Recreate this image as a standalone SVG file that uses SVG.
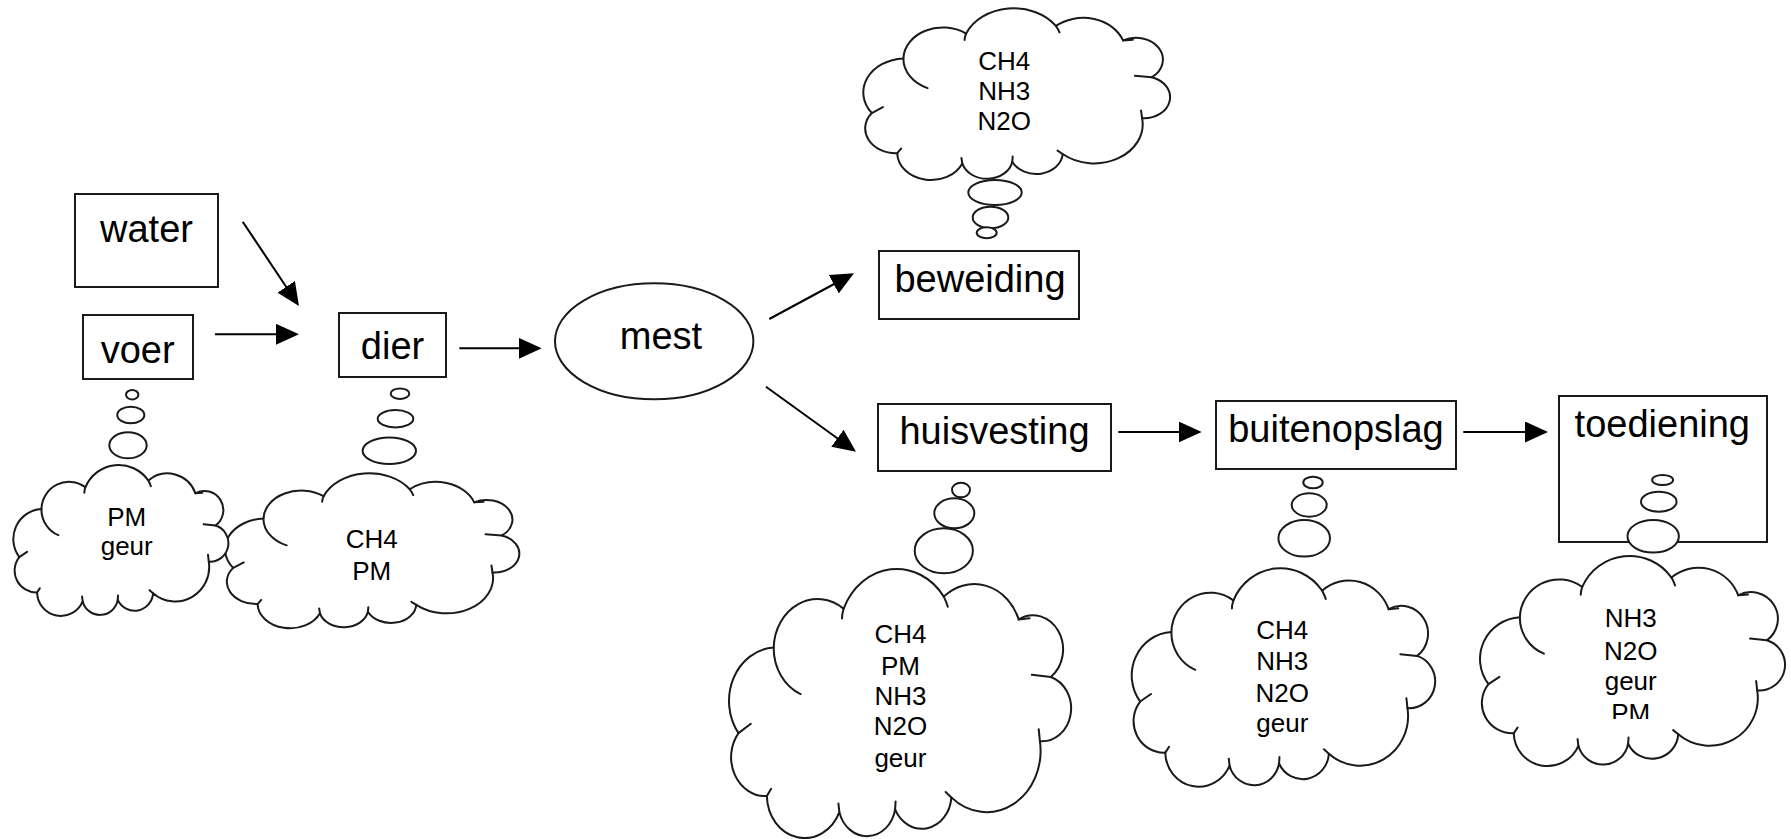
<svg xmlns="http://www.w3.org/2000/svg" width="1791" height="839" viewBox="0 0 1791 839">
<style>
.box{fill:#fff;stroke:#1a1a1a;stroke-width:2}
.lbl{font-family:"Liberation Sans",Arial,sans-serif;font-size:38px;fill:#000;text-anchor:middle}
.ctx{font-family:"Liberation Sans",Arial,sans-serif;font-size:26px;fill:#000;text-anchor:middle}
.bub{fill:#fff;stroke:#1a1a1a;stroke-width:2}
.cl{fill:#fff;stroke:#1a1a1a;stroke-width:2;stroke-linejoin:round}
.tk{fill:none;stroke:#1a1a1a;stroke-width:2;stroke-linecap:round}
.con{stroke:#000;stroke-width:2;fill:none;marker-end:url(#ah)}
</style>
<defs>
<marker id="ah" viewBox="0 0 23 21" refX="11" refY="10.5" markerWidth="23" markerHeight="21" markerUnits="userSpaceOnUse" orient="auto">
<path d="M0,0 L23,10.5 L0,21 Z" fill="#000"/>
</marker>
<clipPath id="pmclip"><rect x="1560" y="690" width="140" height="29"/></clipPath>
</defs>
<rect width="1791" height="839" fill="#fff"/>

<g id="connectors">
<line class="con" x1="242.7" y1="221.7" x2="292.3" y2="296"/>
<line class="con" x1="215" y1="334.3" x2="287" y2="334.3"/>
<line class="con" x1="459.3" y1="348.3" x2="529.7" y2="348.3"/>
<line class="con" x1="769.3" y1="319" x2="843.4" y2="279"/>
<line class="con" x1="766" y1="386.7" x2="846.3" y2="444.7"/>
<line class="con" x1="1118.3" y1="432" x2="1189.7" y2="432"/>
<line class="con" x1="1463.3" y1="432" x2="1536" y2="432"/>
</g>

<g id="water"><rect class="box" x="75" y="194" width="143" height="93"/><text class="lbl" x="146.5" y="241.7">water</text></g>
<g id="voer"><rect class="box" x="83" y="315" width="110" height="64"/><text class="lbl" x="137.7" y="363.3">voer</text></g>
<g id="dier"><rect class="box" x="339" y="313" width="107" height="64"/><text class="lbl" x="392.5" y="359.3">dier</text></g>
<g id="mest"><ellipse class="box" cx="654.2" cy="341.3" rx="99.2" ry="58"/><text class="lbl" x="661" y="349.3">mest</text></g>
<g id="beweiding"><rect class="box" x="879" y="251" width="200" height="68"/><text class="lbl" x="980" y="292">beweiding</text></g>
<g id="huisvesting"><rect class="box" x="878" y="404" width="233" height="67"/><text class="lbl" x="994.5" y="444">huisvesting</text></g>
<g id="buitenopslag"><rect class="box" x="1216" y="401" width="240" height="68"/><text class="lbl" x="1336" y="442">buitenopslag</text></g>
<g id="toediening"><rect class="box" x="1559" y="396" width="208" height="146"/><text class="lbl" x="1662.3" y="436.7">toediening</text></g>

<g id="cloud-dier">
<g transform="translate(223.44,473.8) scale(2.032,1.542)">
<path class="cl" vector-effect="non-scaling-stroke" d="M19.7,29 A18.6,18.6 0 0 1 49.3,14.5 A24.4,24.4 0 0 1 91.7,10 A20,20 0 0 1 123.4,18.5 A12.75,12.75 0 0 1 137,40 A12.3,12.3 0 0 1 132.4,64 A22.9,22.9 0 0 1 94.9,85 A12.5,12.5 0 0 1 71.1,89.5 A12.1,12.1 0 0 1 47.5,90.5 A16,16 0 0 1 16.8,84.5 A14.5,14.5 0 0 1 4.8,61 A20,20 0 0 1 19.7,29 Z"/>
<path class="tk" vector-effect="non-scaling-stroke" d="M19.7,29 A18.6,18.6 0 0 0 31.1,46.4 M49.3,14.5 Q48.6,16.5 48.6,18.2 M91.7,10 Q92.8,12 93.4,13.8 M123.4,18.5 L128,18.1 M137,40 L129,39.2 M132.4,64 L131.9,59.5 M94.9,85 L92.5,83 M71.1,89.5 L71.3,86.5 M47.5,90.5 L47.1,87.3 M16.8,84.5 L18.6,81.8 M4.8,61 L10,57.5"/>
</g>
<ellipse class="bub" cx="400" cy="393.7" rx="9.3" ry="5.3"/>
<ellipse class="bub" cx="395.5" cy="418.7" rx="17.8" ry="8.7"/>
<ellipse class="bub" cx="389.3" cy="450.7" rx="26.7" ry="13.3"/>
<text class="ctx" x="371.7" y="548.3">CH4</text>
<text class="ctx" x="371.7" y="580">PM</text>
</g>

<g id="cloud-voer">
<g transform="translate(12.16,465.48) scale(1.485,1.502)">
<path class="cl" vector-effect="non-scaling-stroke" d="M19.7,29 A18.6,18.6 0 0 1 49.3,14.5 A24.4,24.4 0 0 1 91.7,10 A20,20 0 0 1 123.4,18.5 A12.75,12.75 0 0 1 137,40 A12.3,12.3 0 0 1 132.4,64 A22.9,22.9 0 0 1 94.9,85 A12.5,12.5 0 0 1 71.1,89.5 A12.1,12.1 0 0 1 47.5,90.5 A16,16 0 0 1 16.8,84.5 A14.5,14.5 0 0 1 4.8,61 A20,20 0 0 1 19.7,29 Z"/>
<path class="tk" vector-effect="non-scaling-stroke" d="M19.7,29 A18.6,18.6 0 0 0 31.1,46.4 M49.3,14.5 Q48.6,16.5 48.6,18.2 M91.7,10 Q92.8,12 93.4,13.8 M123.4,18.5 L128,18.1 M137,40 L129,39.2 M132.4,64 L131.9,59.5 M94.9,85 L92.5,83 M71.1,89.5 L71.3,86.5 M47.5,90.5 L47.1,87.3 M16.8,84.5 L18.6,81.8 M4.8,61 L10,57.5"/>
</g>
<ellipse class="bub" cx="132.2" cy="394.7" rx="6.2" ry="4.7"/>
<ellipse class="bub" cx="130.8" cy="415" rx="13.5" ry="8.3"/>
<ellipse class="bub" cx="128" cy="445.3" rx="18.7" ry="13"/>
<text class="ctx" x="126.7" y="526">PM</text>
<text class="ctx" x="126.7" y="555">geur</text>
</g>

<g id="cloud-beweiding">
<g transform="translate(861.67,8.85) scale(2.118,1.708)">
<path class="cl" vector-effect="non-scaling-stroke" d="M19.7,29 A18.6,18.6 0 0 1 49.3,14.5 A24.4,24.4 0 0 1 91.7,10 A20,20 0 0 1 123.4,18.5 A12.75,12.75 0 0 1 137,40 A12.3,12.3 0 0 1 132.4,64 A22.9,22.9 0 0 1 94.9,85 A12.5,12.5 0 0 1 71.1,89.5 A12.1,12.1 0 0 1 47.5,90.5 A16,16 0 0 1 16.8,84.5 A14.5,14.5 0 0 1 4.8,61 A20,20 0 0 1 19.7,29 Z"/>
<path class="tk" vector-effect="non-scaling-stroke" d="M19.7,29 A18.6,18.6 0 0 0 31.1,46.4 M49.3,14.5 Q48.6,16.5 48.6,18.2 M91.7,10 Q92.8,12 93.4,13.8 M123.4,18.5 L128,18.1 M137,40 L129,39.2 M132.4,64 L131.9,59.5 M94.9,85 L92.5,83 M71.1,89.5 L71.3,86.5 M47.5,90.5 L47.1,87.3 M16.8,84.5 L18.6,81.8 M4.8,61 L10,57.5"/>
</g>
<ellipse class="bub" cx="995" cy="192.5" rx="26.7" ry="12.5"/>
<ellipse class="bub" cx="990.5" cy="217.5" rx="17.8" ry="10.8"/>
<ellipse class="bub" cx="986.7" cy="232.8" rx="10" ry="5.5"/>
<text class="ctx" x="1004.3" y="70">CH4</text>
<text class="ctx" x="1004.3" y="99.5">NH3</text>
<text class="ctx" x="1004.3" y="130">N2O</text>
</g>

<g id="cloud-huisvesting">
<g transform="translate(727.18,569.86) scale(2.362,2.677)">
<path class="cl" vector-effect="non-scaling-stroke" d="M19.7,29 A18.6,18.6 0 0 1 49.3,14.5 A24.4,24.4 0 0 1 91.7,10 A20,20 0 0 1 123.4,18.5 A12.75,12.75 0 0 1 137,40 A12.3,12.3 0 0 1 132.4,64 A22.9,22.9 0 0 1 94.9,85 A12.5,12.5 0 0 1 71.1,89.5 A12.1,12.1 0 0 1 47.5,90.5 A16,16 0 0 1 16.8,84.5 A14.5,14.5 0 0 1 4.8,61 A20,20 0 0 1 19.7,29 Z"/>
<path class="tk" vector-effect="non-scaling-stroke" d="M19.7,29 A18.6,18.6 0 0 0 31.1,46.4 M49.3,14.5 Q48.6,16.5 48.6,18.2 M91.7,10 Q92.8,12 93.4,13.8 M123.4,18.5 L128,18.1 M137,40 L129,39.2 M132.4,64 L131.9,59.5 M94.9,85 L92.5,83 M71.1,89.5 L71.3,86.5 M47.5,90.5 L47.1,87.3 M16.8,84.5 L18.6,81.8 M4.8,61 L10,57.5"/>
</g>
<ellipse class="bub" cx="961" cy="490" rx="9" ry="7.3"/>
<ellipse class="bub" cx="954.3" cy="513.3" rx="20" ry="15"/>
<ellipse class="bub" cx="943.8" cy="550.8" rx="29.1" ry="22.5"/>
<text class="ctx" x="900.4" y="643.3">CH4</text>
<text class="ctx" x="900.4" y="675">PM</text>
<text class="ctx" x="900.4" y="705">NH3</text>
<text class="ctx" x="900.4" y="735">N2O</text>
<text class="ctx" x="900.4" y="766.7">geur</text>
</g>

<g id="cloud-buitenopslag">
<g transform="translate(1130.09,569) scale(2.095,2.173)">
<path class="cl" vector-effect="non-scaling-stroke" d="M19.7,29 A18.6,18.6 0 0 1 49.3,14.5 A24.4,24.4 0 0 1 91.7,10 A20,20 0 0 1 123.4,18.5 A12.75,12.75 0 0 1 137,40 A12.3,12.3 0 0 1 132.4,64 A22.9,22.9 0 0 1 94.9,85 A12.5,12.5 0 0 1 71.1,89.5 A12.1,12.1 0 0 1 47.5,90.5 A16,16 0 0 1 16.8,84.5 A14.5,14.5 0 0 1 4.8,61 A20,20 0 0 1 19.7,29 Z"/>
<path class="tk" vector-effect="non-scaling-stroke" d="M19.7,29 A18.6,18.6 0 0 0 31.1,46.4 M49.3,14.5 Q48.6,16.5 48.6,18.2 M91.7,10 Q92.8,12 93.4,13.8 M123.4,18.5 L128,18.1 M137,40 L129,39.2 M132.4,64 L131.9,59.5 M94.9,85 L92.5,83 M71.1,89.5 L71.3,86.5 M47.5,90.5 L47.1,87.3 M16.8,84.5 L18.6,81.8 M4.8,61 L10,57.5"/>
</g>
<ellipse class="bub" cx="1313" cy="482.5" rx="9.7" ry="5.8"/>
<ellipse class="bub" cx="1309.2" cy="505" rx="17.5" ry="11.7"/>
<ellipse class="bub" cx="1304.2" cy="538.3" rx="25.8" ry="18.3"/>
<text class="ctx" x="1282.3" y="639">CH4</text>
<text class="ctx" x="1282.3" y="670">NH3</text>
<text class="ctx" x="1282.3" y="701.7">N2O</text>
<text class="ctx" x="1282.3" y="731.7">geur</text>
</g>

<g id="cloud-toediening">
<g transform="translate(1478.38,556.67) scale(2.106,2.09)">
<path class="cl" vector-effect="non-scaling-stroke" d="M19.7,29 A18.6,18.6 0 0 1 49.3,14.5 A24.4,24.4 0 0 1 91.7,10 A20,20 0 0 1 123.4,18.5 A12.75,12.75 0 0 1 137,40 A12.3,12.3 0 0 1 132.4,64 A22.9,22.9 0 0 1 94.9,85 A12.5,12.5 0 0 1 71.1,89.5 A12.1,12.1 0 0 1 47.5,90.5 A16,16 0 0 1 16.8,84.5 A14.5,14.5 0 0 1 4.8,61 A20,20 0 0 1 19.7,29 Z"/>
<path class="tk" vector-effect="non-scaling-stroke" d="M19.7,29 A18.6,18.6 0 0 0 31.1,46.4 M49.3,14.5 Q48.6,16.5 48.6,18.2 M91.7,10 Q92.8,12 93.4,13.8 M123.4,18.5 L128,18.1 M137,40 L129,39.2 M132.4,64 L131.9,59.5 M94.9,85 L92.5,83 M71.1,89.5 L71.3,86.5 M47.5,90.5 L47.1,87.3 M16.8,84.5 L18.6,81.8 M4.8,61 L10,57.5"/>
</g>
<ellipse class="bub" cx="1662.6" cy="480" rx="10.5" ry="5"/>
<ellipse class="bub" cx="1658.8" cy="501.7" rx="17.8" ry="10"/>
<ellipse class="bub" cx="1653.2" cy="536.3" rx="25.7" ry="16.3"/>
<text class="ctx" x="1630.7" y="626.7">NH3</text>
<text class="ctx" x="1630.7" y="660">N2O</text>
<text class="ctx" x="1630.7" y="690">geur</text>
<text class="ctx" x="1630.7" y="722" clip-path="url(#pmclip)">PM</text>
</g>
</svg>
